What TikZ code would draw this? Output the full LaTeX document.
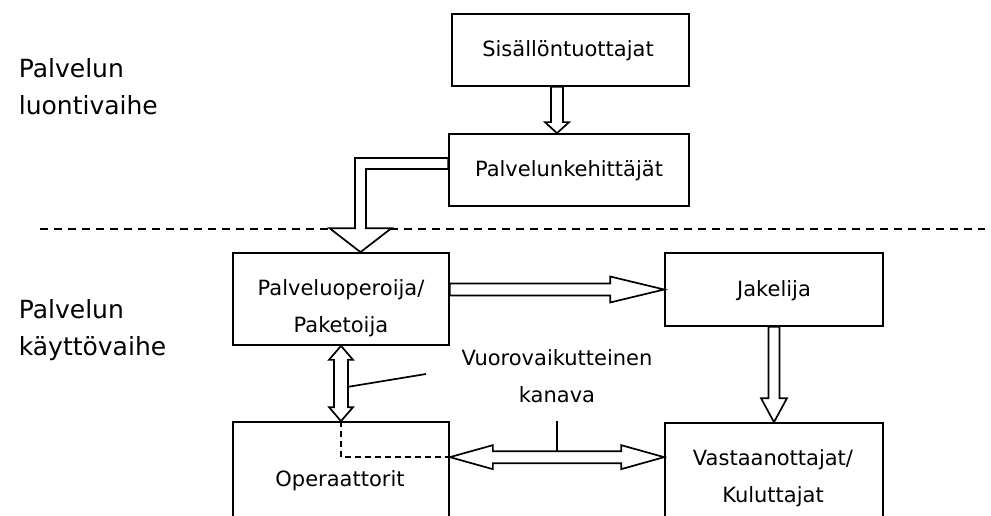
\documentclass[tikz,border=0pt]{standalone}
\usepackage{fontspec}
\setmainfont{DejaVu Sans}
\usetikzlibrary{calc}
\begin{document}
\begin{tikzpicture}[x=1pt,y=-1pt,
  line width=1.7pt,
  box/.style={draw,fill=white,minimum width=#1,inner sep=0pt},
  blk/.style={draw,fill=white,line join=miter},
  txt/.style={font=\fontsize{21}{37}\selectfont,inner sep=0pt,anchor=base},
  lbl/.style={font=\fontsize{25}{37}\selectfont,inner sep=0pt,anchor=base west}]
\clip (0,0) rectangle (991,516);
\useasboundingbox (0,0) rectangle (991,516);

% phase separator
\draw[dash pattern=on 8pt off 6pt] (40,229) -- (985,229);

% boxes
\node[box=237pt,minimum height=72pt] (sis) at (570.5,50) {};
\node[box=240pt,minimum height=72pt] (keh) at (569,170) {};
\node[box=216pt,minimum height=92pt] (pal) at (341,299) {};
\node[box=218pt,minimum height=73pt] (jak) at (774,289.5) {};
\node[box=216pt,minimum height=158pt] (ope) at (341,501) {};
\node[box=218pt,minimum height=158pt] (vas) at (774,502) {};

% Sisällöntuottajat -> Palvelunkehittäjät
\coordinate (s1) at ($(sis.south)+(-13.5,0)$);
\coordinate (t1) at (s1 |- keh.north);
\draw[blk] ($(s1)+(-6,0)$) -- ($(t1)+(-6,-11)$) -- ($(t1)+(-12,-11)$) -- (t1)
  -- ($(t1)+(12,-11)$) -- ($(t1)+(6,-11)$) -- ($(s1)+(6,0)$) -- cycle;

% Palvelunkehittäjät -> Palveluoperoija (bent)
\coordinate (b0) at ($(keh.west)+(0,-12)$);
\coordinate (b1) at ($(keh.west)+(0,-1)$);
\coordinate (bt) at ($(pal.north)+(19.5,0)$);
\draw[blk] (b0) -- ($(bt|-b0)+(-5.5,0)$) -- ($(bt)+(-5.5,-24)$) -- ($(bt)+(-31,-24)$)
  -- (bt) -- ($(bt)+(31,-24)$) -- ($(bt)+(5.5,-24)$) -- ($(bt|-b1)+(5.5,0)$) -- (b1) -- cycle;

% Palveluoperoija -> Jakelija
\coordinate (ht) at (jak.west);
\draw[blk] ($(pal.east|-ht)+(0,-6)$) -- ($(ht)+(-54,-6)$) -- ($(ht)+(-54,-13)$) -- (ht)
  -- ($(ht)+(-54,13)$) -- ($(ht)+(-54,6)$) -- ($(pal.east|-ht)+(0,6)$) -- cycle;

% Jakelija -> Vastaanottajat
\coordinate (jt) at (vas.north);
\coordinate (js) at (jt |- jak.south);
\draw[blk] ($(js)+(-5.5,0)$) -- ($(jt)+(-5.5,-24)$) -- ($(jt)+(-13,-24)$) -- (jt)
  -- ($(jt)+(13,-24)$) -- ($(jt)+(5.5,-24)$) -- ($(js)+(5.5,0)$) -- cycle;

% Palveluoperoija <-> Operaattorit
\coordinate (vt) at (pal.south);
\coordinate (vb) at (ope.north);
\draw[blk] (vt) -- ($(vt)+(12,14)$) -- ($(vt)+(7,14)$) -- ($(vb)+(7,-14)$) -- ($(vb)+(12,-14)$)
  -- (vb) -- ($(vb)+(-12,-14)$) -- ($(vb)+(-7,-14)$) -- ($(vt)+(-7,14)$) -- ($(vt)+(-12,14)$) -- cycle;

% Operaattorit <-> Vastaanottajat
\coordinate (dl) at ($(ope.north east)+(0,36)$);
\coordinate (dr) at (vas.west |- dl);
\draw[blk] (dl) -- ($(dl)+(43,-12)$) -- ($(dl)+(43,-6)$) -- ($(dr)+(-43,-6)$) -- ($(dr)+(-43,-12)$)
  -- (dr) -- ($(dr)+(-43,12)$) -- ($(dr)+(-43,6)$) -- ($(dl)+(43,6)$) -- ($(dl)+(43,12)$) -- cycle;

% interactive channel markers
\coordinate (km) at ($(dl)!0.5!(dr)+(0,-6)$);
\draw (km) -- (km |- ope.north);
\coordinate (pe) at (426,374);
\draw ($(pal.south)+(7,41)$) -- (pe);
\draw[dash pattern=on 6pt off 4pt] (ope.north) -- (ope.north |- dl) -- (dl);

% texts
\node[lbl] (l1a) at (18,78) {Palvelun};
\node[lbl] (l1b) at (18,115) {luontivaihe};
\node[lbl] (l2a) at (18,318) {Palvelun};
\node[lbl] (l2b) at (18,355) {käyttövaihe};
\node[txt] (tsis) at (568,57) {Sisällöntuottajat};
\node[txt] (tkeh) at (569,177) {Palvelunkehittäjät};
\node[txt] (tpal1) at (341,295) {Palveluoperoija/};
\node[txt] (tpal2) at (341,332) {Paketoija};
\node[txt] (tjak) at (774,296) {Jakelija};
\node[txt] (tope) at (340,486) {Operaattorit};
\node[txt] (tvas1) at (773,465) {Vastaanottajat/};
\node[txt] (tvas2) at (773,502) {Kuluttajat};
\node[txt] (tk1) at (557,365) {Vuorovaikutteinen};
\node[txt] (tk2) at (557,402) {kanava};
\end{tikzpicture}
\end{document}
